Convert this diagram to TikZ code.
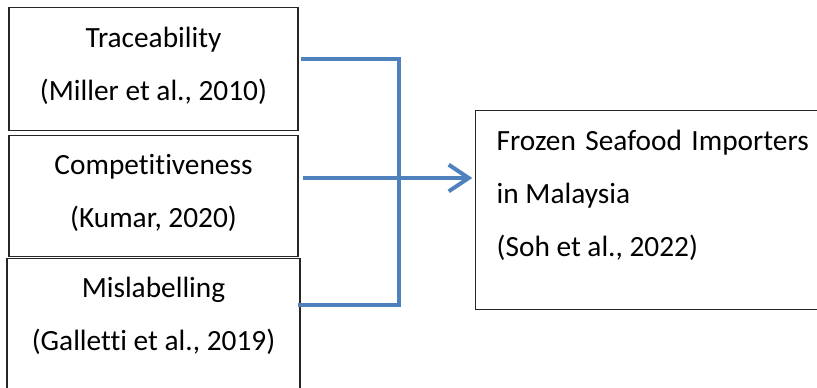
\documentclass[tikz,border=0pt]{standalone}
\usepackage{fontspec}
\setmainfont{Carlito}[Ligatures=NoCommon]
\usetikzlibrary{arrows.meta}
\definecolor{linkblue}{HTML}{4F81BD}
\tikzset{
  factor/.style={draw=black!85, line width=1.1pt, align=center, inner xsep=0pt, inner ysep=0pt,
    font=\fontsize{22}{39.75}\selectfont},
  link/.style={draw=linkblue, line width=3pt},
}
\begin{document}
\begin{tikzpicture}[x=0.75pt,y=-0.75pt]
  \useasboundingbox (0,0) rectangle (817,387);
  \clip (0,0) rectangle (817,387);

  % the three factors
  \node[factor, minimum width=216.75pt, text height=69.75pt, text depth=22.5pt, anchor=north] (trace) at (153.5,7)
    {Traceability\\(Miller et al., 2010)};
  \node[factor, minimum width=216.75pt, text height=69pt, text depth=21.75pt, anchor=north] (comp) at (153.5,135)
    {Competitiveness\\(Kumar, 2020)};
  \node[factor, minimum width=219.75pt, text height=69pt, text depth=52.5pt, anchor=north] (misl) at (153.5,258)
    {Mislabelling\\(Galletti et al., 2019)};

  % outcome
  \node[factor, align=flush left, text width=234pt, inner xsep=15.75pt, text height=30pt, text depth=119.25pt,
    anchor=north west] (importers) at (475,110)
    {Frozen\hfill Seafood\hfill Importers\\in Malaysia\\(Soh et al., 2022)};

  % bracket
  \coordinate (jt) at (399,59);
  \coordinate (jb) at (399,305);
  \coordinate (jm) at (0,178);
  \draw[link, shorten <=1.5pt, shorten >=-2pt] (trace.east |- jt) -- (jt) -- (jb) -- (misl.east |- jb);
  \draw[link, shorten <=3.5pt, shorten >=2pt, -{Straight Barb[length=15pt,width=20pt]}]
    (comp.east |- jm) -- (importers.west |- jm);
\end{tikzpicture}
\end{document}
